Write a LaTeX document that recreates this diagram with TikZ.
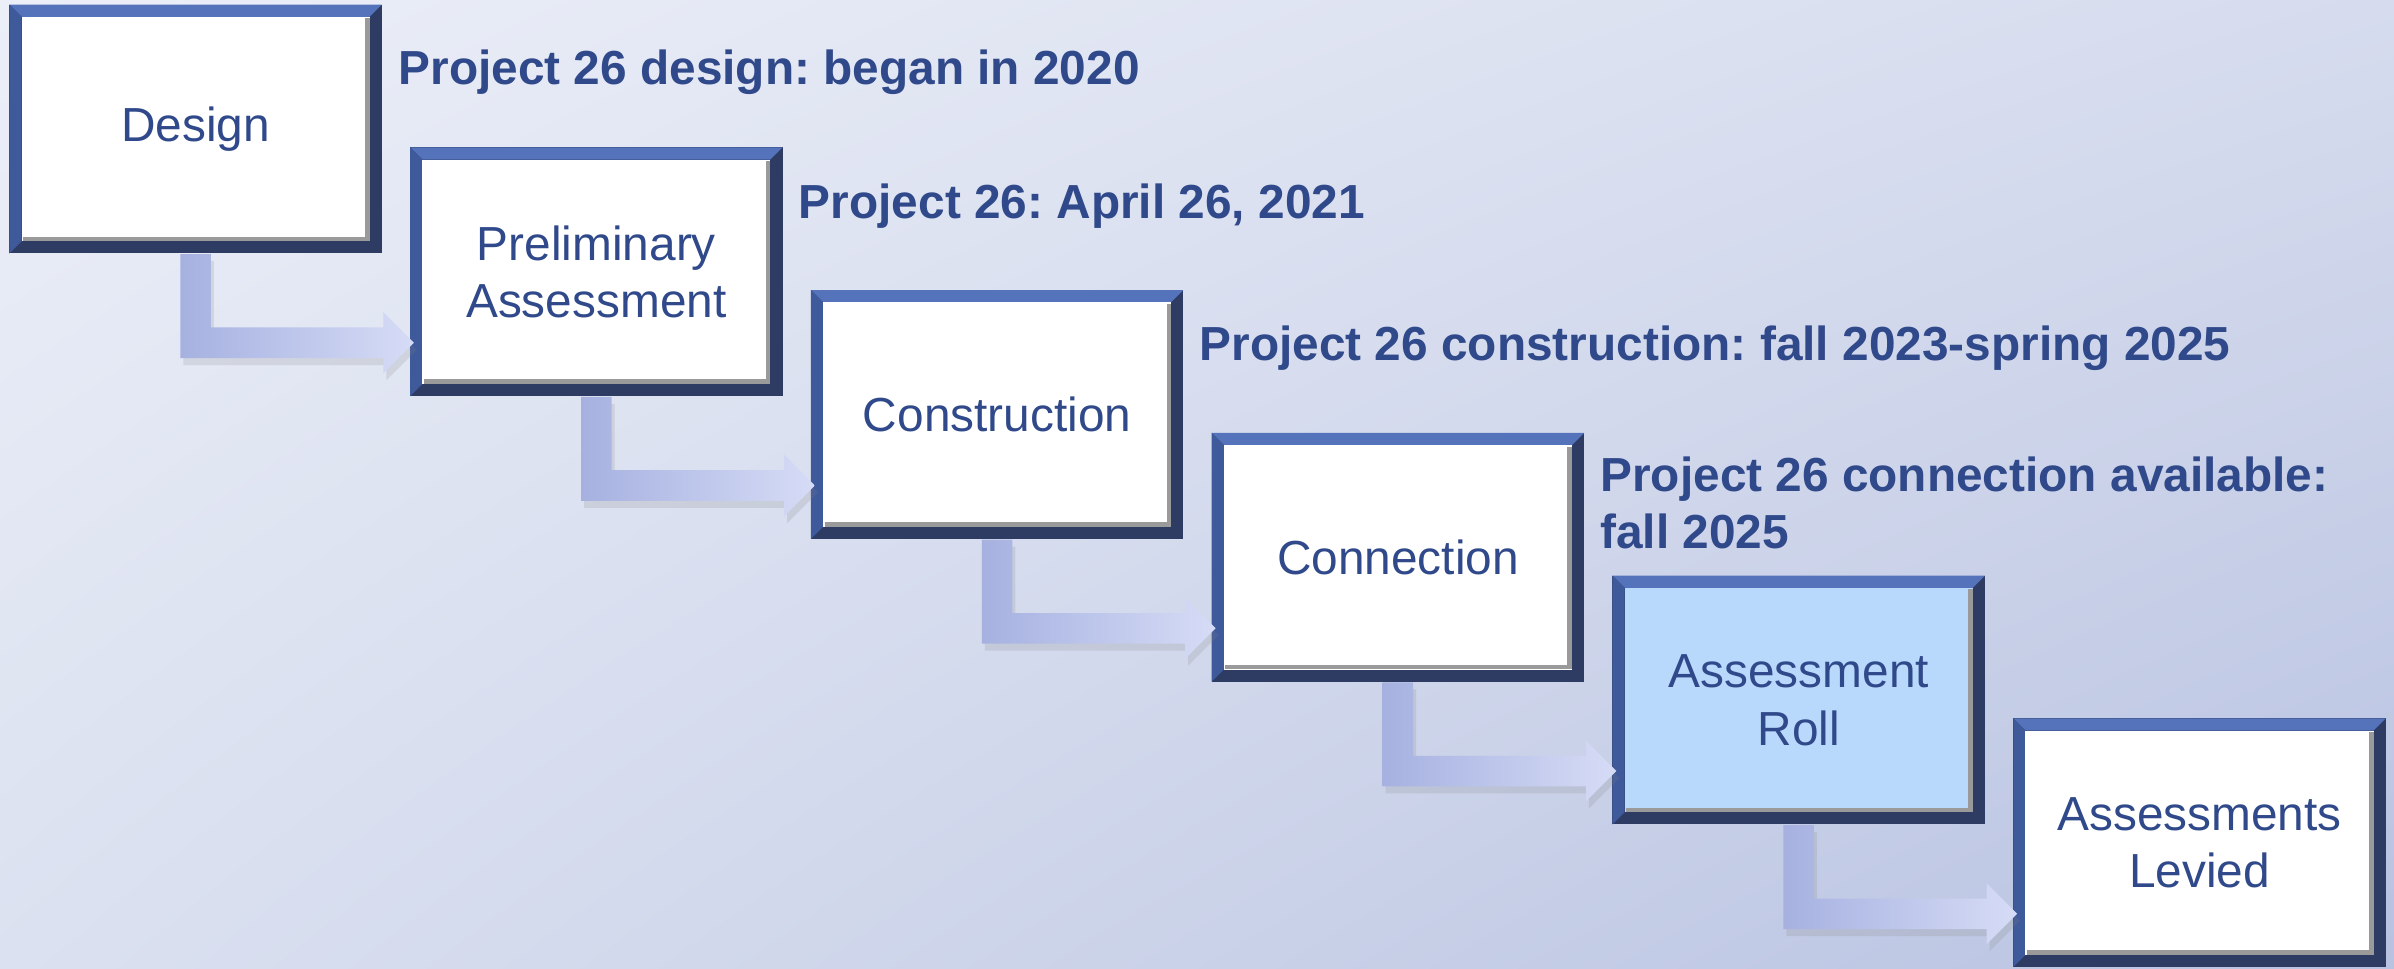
\documentclass[tikz,border=0pt]{standalone}
\usepackage{fontspec}
\setmainfont{Liberation Sans}
\usepackage{xcolor}
\usetikzlibrary{shapes.geometric, arrows, calc, shadows, shadings}

\definecolor{stepblue}{HTML}{30498A}
\definecolor{frametop}{HTML}{5473BB}
\definecolor{frameleft}{HTML}{3F5A9B}
\definecolor{framedark}{HTML}{2E3C64}
\definecolor{bevelgrey}{HTML}{9A9A9A}
\definecolor{rollblue}{HTML}{B8D8FC}
\definecolor{flowdark}{HTML}{A6B1E0}
\definecolor{flowlight}{HTML}{D6DCF6}
\definecolor{bgul}{HTML}{ECEFF8}
\definecolor{bgur}{HTML}{D6DCEE}
\definecolor{bgll}{HTML}{DBE1F0}
\definecolor{bglr}{HTML}{B8C2E1}

\tikzset{
  stepbox/.style={rectangle, minimum width=37.25mm, minimum height=24.89mm,
    inner sep=0pt, align=center, text=stepblue,
    font=\fontsize{13.6}{16.4}\selectfont, fill=framedark,
    path picture={
      \coordinate (pnw) at (path picture bounding box.north west);
      \coordinate (pne) at (path picture bounding box.north east);
      \coordinate (psw) at (path picture bounding box.south west);
      \coordinate (pse) at (path picture bounding box.south east);
      \fill[frametop] (pnw) -- (pne) -- ($(pne)+(-8,8)$) -- ($(pnw)+(8,8)$) -- cycle;
      \fill[frameleft] (pnw) -- ($(pnw)+(8,8)$) -- ($(psw)+(8,-8)$) -- (psw) -- cycle;
      \fill[#1] ($(pnw)+(8,8)$) rectangle ($(pse)+(-8,-8)$);
      \draw[bevelgrey, line width=0.45mm] ($(psw)+(9,-9.5)$) -- ($(pse)+(-9.5,-9.5)$) -- ($(pne)+(-9.5,9)$);
    }},
  stepbox/.default=white,
  note/.style={anchor=base west, inner sep=0pt, align=left, text=stepblue,
    font=\fontsize{13.6}{16.1}\selectfont\bfseries},
  flow/.style={left color=flowdark, right color=flowlight,
    drop shadow={shadow xshift=0.3mm, shadow yshift=-0.7mm, opacity=0.18}}
}

\begin{document}
\frenchspacing
\begin{tikzpicture}[x=0.15268mm, y=-0.15268mm]
    \shade[upper left=bgul, upper right=bgur, lower left=bgll, lower right=bglr] (0,0) rectangle (1568,634.6);
    \useasboundingbox (0,0) rectangle (1568,634.6);

    \node[stepbox] (design) at (128.1,84.5) {\raisebox{-0.5mm}{Design}};
    \node[stepbox] (prelim) at (390.6,178) {Preliminary\\Assessment};
    \node[stepbox] (constr) at (653.1,271.5) {\raisebox{-0.3mm}{Construction}};
    \node[stepbox] (conn) at (915.6,365) {\raisebox{-0.5mm}{Connection}};
    \node[stepbox=rollblue] (roll) at (1178.1,458.5) {Assessment\\Roll};
    \node[stepbox] (levied) at (1440.6,552) {Assessments\\Levied};

    \node[note] (n1) at (260.6,55.6) {Project 26 design: began in 2020};
    \node[note] (n2) at (522.8,143) {Project 26: April 26, 2021};
    \node[note] (n3) at (785.3,236) {Project 26 construction: fall 2023-spring 2025};
    \node[note] (n4) at (1047.8,359) {Project 26 connection available:\\fall 2025};

    \foreach \a/\b in {design/prelim, prelim/constr, constr/conn, conn/roll, roll/levied}
        \shade[flow] ($(\a.south)+(-10,0)$) |- ($(\b.west)+(-17,56.5)$) -- ($(\b.west)+(-17,66.5)$)
            -- ($(\b.west)+(3,46.5)$) -- ($(\b.west)+(-17,26.5)$) -- ($(\b.west)+(-17,36.5)$)
            -| ($(\a.south)+(10,0)$) -- cycle;
\end{tikzpicture}
\end{document}
